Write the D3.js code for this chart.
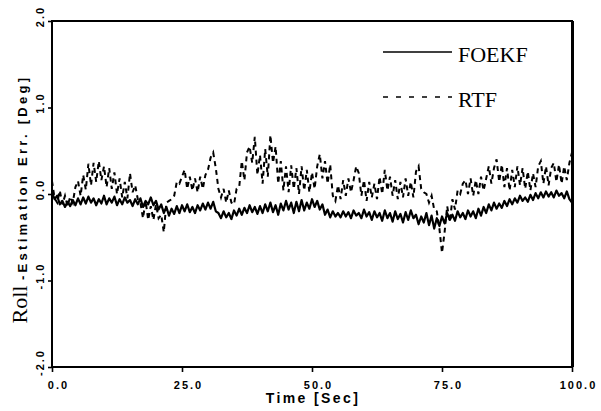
<!DOCTYPE html>
<html>
<head>
<meta charset="utf-8">
<script src="https://cdnjs.cloudflare.com/ajax/libs/d3/7.8.5/d3.min.js"></script>
<style>
  body { margin: 0; background: #fff; }
  svg  { display: block; }
  .axis text { font-family: "Liberation Sans", Arial, sans-serif; font-weight: bold; font-size: 11px; letter-spacing: 2px; fill: #000; }
  .axis line { stroke: #000; stroke-width: 1.6px; }
  .axis path { display: none; }
</style>
</head>
<body>
<svg width="601" height="411"></svg>
<script>
// values, one sample every 0.5 sec
var time_step = 0.5 ;

var foekf = [
   0.02, -0.06, -0.02, -0.12, -0.08, -0.15, -0.09, -0.14, -0.07, -0.13,
  -0.05, -0.12, -0.04, -0.11, -0.03, -0.10, -0.05, -0.13, -0.06, -0.11,
  -0.02, -0.12, -0.05, -0.10, -0.03, -0.13, -0.06, -0.12, -0.04, -0.10,
  -0.07, -0.14, -0.06, -0.12, -0.05, -0.15, -0.08, -0.12, -0.04, -0.13,
  -0.08, -0.18, -0.12, -0.22, -0.15, -0.25, -0.17, -0.23, -0.14, -0.22,
  -0.13, -0.20, -0.12, -0.21, -0.15, -0.22, -0.13, -0.19, -0.11, -0.18,
  -0.10, -0.17, -0.09, -0.20, -0.22, -0.28, -0.20, -0.27, -0.22, -0.29,
  -0.19, -0.25, -0.17, -0.24, -0.16, -0.22, -0.13, -0.21, -0.15, -0.23,
  -0.14, -0.22, -0.12, -0.20, -0.10, -0.21, -0.13, -0.24, -0.11, -0.19,
  -0.08, -0.18, -0.10, -0.22, -0.09, -0.20, -0.07, -0.19, -0.10, -0.17,
  -0.06, -0.15, -0.08, -0.18, -0.12, -0.24, -0.18, -0.27, -0.20, -0.26,
  -0.22, -0.27, -0.20, -0.26, -0.21, -0.28, -0.19, -0.25, -0.22, -0.28,
  -0.18, -0.26, -0.21, -0.30, -0.20, -0.27, -0.22, -0.31, -0.19, -0.28,
  -0.22, -0.32, -0.20, -0.29, -0.23, -0.33, -0.21, -0.30, -0.19, -0.28,
  -0.24, -0.35, -0.26, -0.33, -0.22, -0.36, -0.25, -0.40, -0.28, -0.37,
  -0.26, -0.34, -0.22, -0.30, -0.24, -0.31, -0.20, -0.27, -0.22, -0.29,
  -0.19, -0.26, -0.20, -0.28, -0.17, -0.25, -0.15, -0.22, -0.12, -0.19,
  -0.10, -0.17, -0.11, -0.16, -0.08, -0.14, -0.06, -0.12, -0.05, -0.10,
  -0.02, -0.08, -0.04, -0.09, -0.01, -0.07,  0.01, -0.05,  0.02, -0.04,
   0.03, -0.03,  0.02, -0.04,  0.04, -0.02,  0.01, -0.05,  0.03, -0.06,
  -0.10
] ;

var rtf = [
   0.15, -0.05, -0.10,  0.04, -0.12, -0.02, -0.14, -0.03, -0.10,  0.08,
   0.15, -0.02,  0.22,  0.05,  0.35,  0.10,  0.36,  0.14,  0.38,  0.16,
   0.32,  0.08,  0.30,  0.06,  0.25,  0.00,  0.18, -0.04,  0.14, -0.05,
   0.24,  0.02,  0.10, -0.06, -0.10, -0.28, -0.08, -0.30, -0.14, -0.30,
  -0.12, -0.28, -0.24, -0.44, -0.10, -0.08, -0.06, -0.02,  0.14,  0.12,
   0.20,  0.28,  0.06,  0.20,  0.04,  0.18,  0.02,  0.20,  0.06,  0.22,
   0.28,  0.42,  0.48,  0.30,  0.06, -0.04,  0.06, -0.10,  0.04, -0.10,
  -0.12,  0.06,  0.08,  0.38,  0.16,  0.48,  0.55,  0.36,  0.66,  0.22,
   0.45,  0.12,  0.52,  0.20,  0.68,  0.36,  0.55,  0.12,  0.38,  0.04,
   0.32,  0.02,  0.33,  0.06,  0.30,  0.00,  0.32,  0.04,  0.28,  0.02,
   0.25,  0.06,  0.32,  0.46,  0.18,  0.38,  0.12,  0.34, -0.02, -0.08,
   0.10, -0.06,  0.16, -0.02,  0.18,  0.02,  0.16,  0.32,  0.24, -0.02,
   0.16, -0.08,  0.14, -0.04,  0.12, -0.06,  0.20,  0.00,  0.28,  0.04,
   0.20, -0.02,  0.16, -0.06,  0.14, -0.04,  0.18, -0.02,  0.14, -0.04,
   0.26,  0.32,  0.06,  0.02,  0.00, -0.10, -0.02, -0.18, -0.20, -0.40,
  -0.68, -0.44, -0.14, -0.32, -0.06, -0.18,  0.04,  0.00,  0.12,  0.16,
   0.00,  0.18, -0.02,  0.16,  0.00,  0.20,  0.04,  0.18,  0.32,  0.12,
   0.30,  0.40,  0.14,  0.34,  0.08,  0.30,  0.04,  0.28,  0.08,  0.32,
   0.10,  0.30,  0.06,  0.26,  0.04,  0.24,  0.08,  0.32,  0.38,  0.12,
   0.32,  0.10,  0.30,  0.36,  0.14,  0.34,  0.12,  0.32,  0.16,  0.36,
   0.48
] ;

var x_ticks       = [0, 25, 50, 75, 100] ;
var x_tick_labels = ["0.0", "25.0", "50.0", "75.0", "100.0"] ;
var y_ticks       = [2, 1, 0, -1, -2] ;
var y_tick_labels = ["2.0", "1.0", "0.0", "-1.0", "-2.0"] ;
var series_names  = ["FOEKF", "RTF"] ;

// plot box
var LEFT = 52, RIGHT = 572, TOP = 21, BOTTOM = 367 ;

var svg = d3.select("svg") ;
var x = d3.scaleLinear().domain([0, 100]).range([LEFT, RIGHT]) ;
var y = d3.scaleLinear().domain([-2, 2]).range([BOTTOM, TOP]) ;

draw_axes = function(){
  var xa = svg.append("g")
    .attr("class", "axis")
    .attr("transform", "translate(0," + BOTTOM + ")")
    .call( d3.axisBottom(x).tickValues(x_ticks).tickSize(5).tickPadding(9)
             .tickFormat(function(d, i){ return x_tick_labels[i] ; }) ) ;
  xa.selectAll("text").attr("dx", 6) ;

  var ya = svg.append("g")
    .attr("class", "axis")
    .attr("transform", "translate(" + LEFT + ",0)")
    .call( d3.axisLeft(y).tickValues(y_ticks).tickSize(4)
             .tickFormat(function(d, i){ return y_tick_labels[i] ; }) ) ;
  ya.selectAll("text")
    .attr("x", 0).attr("dy", 0)
    .attr("text-anchor", "middle")
    .attr("transform", "translate(-8,-5) rotate(-90)") ;

  // frame
  svg.append("rect")
    .attr("x", LEFT).attr("y", TOP)
    .attr("width", RIGHT - LEFT).attr("height", BOTTOM - TOP)
    .style("fill", "none").style("stroke", "#000").style("stroke-width", 2) ;
  svg.append("line")
    .attr("x1", RIGHT + 0.5).attr("x2", RIGHT + 0.5)
    .attr("y1", TOP).attr("y2", BOTTOM)
    .style("stroke", "#000").style("stroke-width", 3) ;

  // titles
  svg.append("text")
    .attr("x", 313).attr("y", 403)
    .attr("text-anchor", "middle")
    .style("font-family", "Liberation Sans, Arial, sans-serif")
    .style("font-weight", "bold").style("font-size", "14px").style("letter-spacing", "2.4px")
    .text("Time [Sec]") ;

  var yt = svg.append("text")
    .attr("transform", "translate(27,199) rotate(-90)")
    .attr("text-anchor", "middle") ;
  yt.append("tspan")
    .style("font-family", "Liberation Serif, Times New Roman, serif")
    .style("font-size", "22px")
    .text("Roll ") ;
  yt.append("tspan")
    .style("font-family", "Liberation Sans, Arial, sans-serif")
    .style("font-weight", "bold").style("font-size", "13px").style("letter-spacing", "3.3px")
    .text("-Estimation Err. [Deg]") ;
}

draw_series = function(){
  var line = d3.line()
    .x(function(d, i){ return x(i * time_step) ; })
    .y(function(d){ return y(d) ; }) ;

  svg.append("path")
    .datum(rtf)
    .attr("d", line)
    .style("fill", "none").style("stroke", "#000")
    .style("stroke-width", 2).style("stroke-dasharray", "5,4") ;

  svg.append("path")
    .datum(foekf)
    .attr("d", line)
    .style("fill", "none").style("stroke", "#000")
    .style("stroke-width", 2.2).style("stroke-linejoin", "round") ;
}

draw_legend = function(){
  var rows = [ {y: 52, dash: null}, {y: 97, dash: "5,8"} ] ;
  for (var i = 0; i < series_names.length; i++) {
    svg.append("line")
      .attr("x1", 383).attr("x2", 452)
      .attr("y1", rows[i].y).attr("y2", rows[i].y)
      .style("stroke", "#000").style("stroke-width", 1.5)
      .style("stroke-dasharray", rows[i].dash) ;
    svg.append("text")
      .attr("x", 458).attr("y", rows[i].y + 10)
      .style("font-family", "Liberation Serif, Times New Roman, serif")
      .style("font-size", "22px")
      .text(series_names[i]) ;
  }
}

draw_series() ;
draw_axes() ;
draw_legend() ;
</script>
</body>
</html>
